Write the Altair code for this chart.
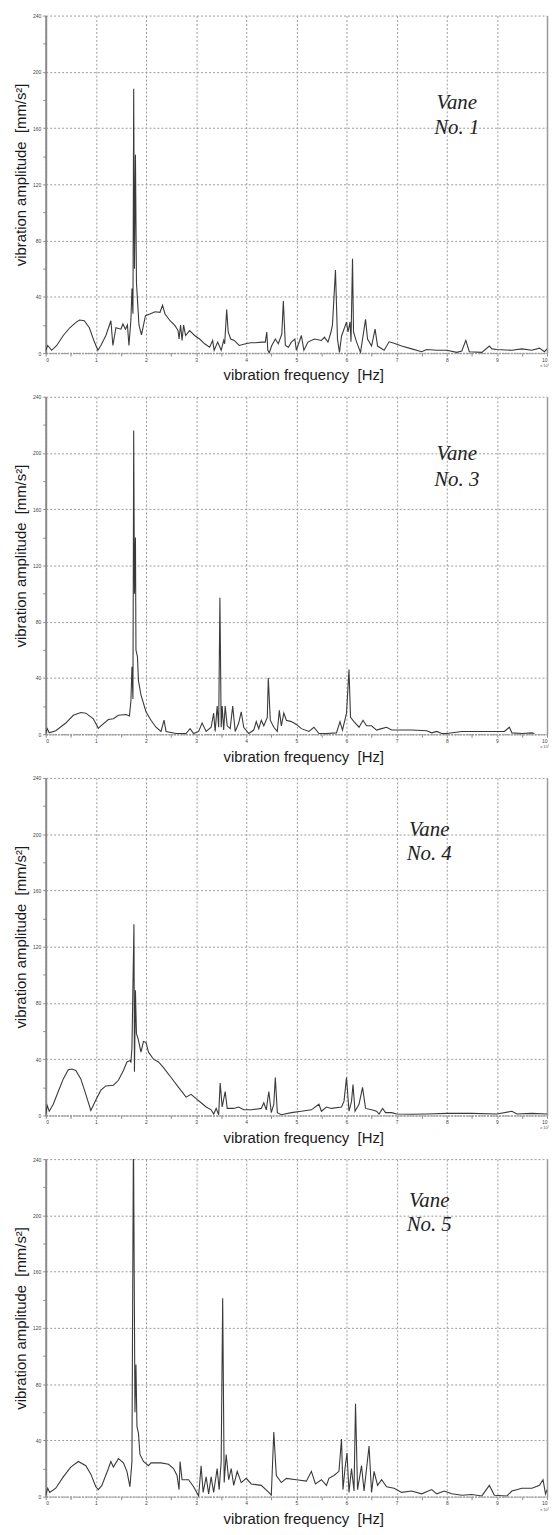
import altair as alt
import pandas as pd

# ---------------- data (frequency in kHz x 10^3 Hz, amplitude in mm/s^2) ----------------
f1 = [0.0, 0.04, 0.12, 0.22, 0.35, 0.48, 0.61, 0.675, 0.77, 0.87, 0.97, 1.04, 1.10, 1.20, 1.30, 1.34,
      1.40, 1.50, 1.54, 1.59, 1.63, 1.66, 1.70, 1.72, 1.74, 1.755, 1.77, 1.79, 1.81, 1.83, 1.86, 1.91,
      1.99, 2.08, 2.18, 2.28, 2.33, 2.38, 2.48, 2.58, 2.64, 2.66, 2.69, 2.72, 2.75, 2.79, 2.87, 2.97,
      3.07, 3.17, 3.27, 3.33, 3.36, 3.43, 3.50, 3.55, 3.57, 3.61, 3.64, 3.69, 3.76, 3.86, 3.99, 4.09,
      4.18, 4.31, 4.38, 4.41, 4.43, 4.46, 4.51, 4.58, 4.64, 4.71, 4.74, 4.78, 4.84, 4.90, 4.97, 5.00,
      5.10, 5.15, 5.23, 5.36, 5.50, 5.56, 5.63, 5.69, 5.72, 5.78, 5.82, 5.86, 5.90, 6.00, 6.03, 6.07,
      6.09, 6.12, 6.14, 6.20, 6.28, 6.38, 6.42, 6.50, 6.57, 6.62, 6.75, 6.85, 6.95, 7.10, 7.30, 7.50,
      7.60, 7.80, 8.00, 8.20, 8.30, 8.38, 8.45, 8.70, 8.85, 8.90, 9.00, 9.30, 9.50, 9.70, 9.85, 9.95, 10.0]
a1 = [2, 5.4, 2, 5.4, 12.5, 18, 22, 23.5, 23, 18, 8, 2, 5.4, 12.5, 23, 5.4,
      18, 17, 20.7, 17, 20, 5.4, 24, 46, 28, 188, 60, 141, 50, 38, 20, 13,
      26.6, 27.8, 29.4, 29, 34, 27.8, 23, 19.5, 16, 10, 20, 9, 20, 12.5, 16, 12.5,
      10, 6.6, 4.2, 9, 2, 7.8, 2, 9, 6.6, 31, 15, 10, 9, 5.4, 6.6, 7.3,
      7.3, 7.8, 7.8, 15, 2, 0.2, 5.4, 10, 6.6, 13.6, 37, 5.4, 4.2, 7.8, 10, 2,
      12.5, 2, 7.8, 10, 9, 11.3, 7.8, 14.8, 20, 59, 10, 0.5, 12, 22, 15, 22,
      8, 67, 15, 8, 0.5, 24, 10, 5, 17, 5, 2, 8, 7, 5, 3, 1,
      2.5, 2, 2, 0.5, 1.5, 9, 1, 0.5, 5, 3, 2.5, 2, 3, 2, 3.5, 1, 3]

f3 = [0.0, 0.03, 0.07, 0.20, 0.40, 0.55, 0.70, 0.80, 0.95, 1.05, 1.10, 1.25, 1.35, 1.45, 1.60, 1.67,
      1.70, 1.72, 1.74, 1.755, 1.77, 1.79, 1.80, 1.83, 1.85, 1.90, 2.00, 2.10, 2.20, 2.30, 2.36, 2.40,
      2.60, 2.80, 2.88, 2.95, 3.05, 3.12, 3.20, 3.30, 3.35, 3.38, 3.42, 3.45, 3.475, 3.50, 3.52, 3.55,
      3.58, 3.62, 3.68, 3.73, 3.78, 3.85, 3.90, 3.95, 4.05, 4.15, 4.20, 4.25, 4.30, 4.35, 4.42, 4.44,
      4.48, 4.55, 4.62, 4.66, 4.70, 4.75, 4.80, 4.90, 5.00, 5.10, 5.25, 5.35, 5.45, 5.60, 5.80, 5.87,
      5.92, 6.00, 6.05, 6.08, 6.15, 6.25, 6.33, 6.40, 6.50, 6.60, 6.70, 6.80, 6.90, 7.00, 7.30, 7.60,
      7.70, 7.80, 7.90, 8.00, 8.30, 8.60, 8.90, 9.15, 9.25, 9.30, 9.50, 9.70, 9.75]
a3 = [1, 4, 1, 2.5, 8, 13.5, 15.5, 15, 11, 4.2, 6, 10.5, 11, 13.5, 14, 13,
      24, 48, 25, 216, 100, 140, 60, 55, 38, 28, 16, 10, 5, 2, 10, 2,
      0.5, 0.5, 4, 0.5, 2, 8, 2, 5, 15, 2, 20, 5, 97, 5, 20, 3,
      20, 6, 4, 20, 2, 8, 16, 5, 0.5, 3, 9, 4, 10, 6, 12, 40,
      10, 5, 2, 17, 6, 15, 10, 9, 7, 4, 2, 5, 0.5, 0.5, 1, 9,
      3, 15, 46, 12, 9, 5, 10, 6, 6, 3, 4, 5, 3, 3, 3, 2.5,
      1, 2, 0.5, 0.5, 2, 2, 2, 2, 5, 1, 0.5, 1, 0.5]

f4 = [0.0, 0.03, 0.07, 0.15, 0.25, 0.35, 0.45, 0.52, 0.60, 0.70, 0.80, 0.90, 1.00, 1.10, 1.20, 1.35,
      1.45, 1.55, 1.62, 1.68, 1.70, 1.72, 1.76, 1.77, 1.79, 1.81, 1.84, 1.90, 1.95, 2.00, 2.05, 2.15,
      2.25, 2.35, 2.50, 2.65, 2.80, 2.90, 3.00, 3.10, 3.20, 3.30, 3.35, 3.40, 3.45, 3.48, 3.52, 3.58,
      3.62, 3.75, 3.85, 3.95, 4.10, 4.30, 4.35, 4.40, 4.45, 4.50, 4.55, 4.58, 4.62, 4.70, 4.90, 5.10,
      5.30, 5.45, 5.50, 5.60, 5.70, 5.90, 5.95, 6.00, 6.05, 6.10, 6.13, 6.17, 6.25, 6.32, 6.38, 6.50,
      6.60, 6.65, 6.72, 6.78, 6.90, 7.00, 7.30, 7.60, 8.00, 8.50, 9.00, 9.30, 9.40, 9.70, 10.0]
a4 = [1, 7, 3, 8, 17, 26, 32.5, 33, 32, 26, 15, 3.5, 11, 18, 21, 21.5,
      25, 32, 38, 39, 38, 48, 136, 31, 89, 58, 55, 45, 52.6, 52, 45, 40,
      38, 34, 27, 20, 13, 15, 12, 9, 6, 4, 1, 5, 0.5, 23, 6, 17,
      5, 5, 6, 4, 4, 5, 9, 4, 17, 2, 8, 27, 2, 0.5, 2, 3,
      4, 8, 3, 6, 5, 6, 10, 27, 3, 10, 22, 3, 8, 20, 5, 4,
      3, 1, 5, 2, 2, 1, 0.8, 1, 1.5, 1.5, 1, 3, 1, 1.5, 1]

f5 = [0.0, 0.04, 0.08, 0.20, 0.35, 0.50, 0.65, 0.80, 0.90, 1.00, 1.05, 1.12, 1.25, 1.30, 1.35, 1.45,
      1.55, 1.62, 1.68, 1.72, 1.73, 1.75, 1.78, 1.80, 1.82, 1.85, 1.88, 1.95, 2.05, 2.10, 2.30, 2.45,
      2.55, 2.62, 2.66, 2.68, 2.72, 2.85, 2.95, 3.05, 3.10, 3.14, 3.20, 3.25, 3.30, 3.35, 3.42, 3.46,
      3.50, 3.53, 3.56, 3.60, 3.65, 3.70, 3.75, 3.82, 3.90, 4.00, 4.10, 4.30, 4.45, 4.50, 4.55, 4.60,
      4.70, 4.80, 5.00, 5.20, 5.30, 5.38, 5.50, 5.60, 5.65, 5.75, 5.85, 5.90, 5.93, 5.97, 6.01, 6.05,
      6.10, 6.15, 6.18, 6.22, 6.30, 6.35, 6.45, 6.50, 6.55, 6.62, 6.70, 6.80, 6.95, 7.10, 7.30, 7.50,
      7.70, 7.80, 7.95, 8.10, 8.30, 8.50, 8.70, 8.85, 8.95, 9.20, 9.30, 9.50, 9.70, 9.85, 9.92, 9.97, 10.0]
a5 = [1, 6, 3, 6, 14, 21, 25, 22, 16, 7, 5, 8, 20, 25, 21, 27,
      24, 18, 7, 25, 104, 260, 60, 94, 50, 45, 30, 25, 22, 24, 24, 23,
      20, 15, 5, 25, 12, 12, 7, 0.5, 22, 3, 14, 2, 14, 3, 20, 5,
      25, 141, 10, 30, 12, 20, 8, 18, 10, 13, 9, 8, 3, 1, 46, 15,
      10, 13, 12, 11, 18, 9, 12, 8, 13, 15, 18, 41, 5, 20, 31, 3,
      20, 4, 66, 5, 22, 4, 36, 3, 18, 8, 12, 7, 6, 3, 4, 2,
      5, 2, 4, 2, 1, 1.5, 0.5, 8, 1, 0.5, 4, 6, 6, 8, 12, 2, 5]

vanes = ["No. 1", "No. 3", "No. 4", "No. 5"]
vane_x = [8.2, 8.2, 7.65, 7.65]
vane_y_top = [178, 199, 203, 210]
vane_y_bot = [160, 181, 186, 193]

x_ticks = [i * 0.5 for i in range(21)]
y_ticks = [i * 20 for i in range(13)]

LINE = "#3a3a3a"
GRID = "#9a9a9a"
W, H = 505, 340

xaxis = alt.Axis(
    values=x_ticks,
    labelExpr="datum.value % 1 == 0 ? format(datum.value, 'd') : ''",
    title="vibration frequency \u00a0[Hz]",
    titleX=W / 2 + 7,
    grid=True,
    gridDash=[2, 2],
    gridColor=GRID,
    gridOpacity={"condition": {"test": "datum.value % 1 != 0", "value": 0}, "value": 1},
    tickSize=3,
    labelFontSize=5,
    labelPadding=1,
    titlePadding=6,
    domainDash=[2, 1],
    domainWidth=1.5,
)
yaxis = alt.Axis(
    orient="left",
    values=y_ticks,
    labelExpr="datum.value % 40 == 0 ? format(datum.value, 'd') : ''",
    title="vibration amplitude \u00a0[mm/s²]",
    titleY=H / 2 - 10,
    grid=True,
    gridDash=[2, 2],
    gridColor=GRID,
    gridOpacity={"condition": {"test": "datum.value % 40 != 0", "value": 0}, "value": 1},
    tickSize=3,
    labelFontSize=5,
    labelPadding=2,
    titlePadding=4,
    domainColor="#8a8a8a",
    domainWidth=2,
)
yaxis_right = alt.Axis(
    orient="right",
    values=y_ticks,
    labels=False,
    ticks=False,
    grid=False,
    title="",
    domainColor="#9a9a9a",
    domainWidth=1.5,
)
xscale = alt.Scale(domain=[0, 10], nice=False, zero=False)
yscale = alt.Scale(domain=[0, 240], nice=False)


def panel(freq, amp, label, vx, vy1, vy2):
    df = pd.DataFrame({"f": freq, "a": amp})
    line = alt.Chart(df).mark_line(color=LINE, strokeWidth=1.1, clip=True).encode(
        x=alt.X("f:Q", scale=xscale, axis=xaxis),
        y=alt.Y("a:Q", scale=yscale, axis=yaxis),
    )
    tdf = pd.DataFrame({"f": [vx, vx], "a": [vy1, vy2], "t": ["Vane", label]})
    txt = alt.Chart(tdf).mark_text(
        font="Liberation Serif", fontStyle="italic", fontSize=21, color="#222222",
        align="center", baseline="middle",
    ).encode(
        x=alt.X("f:Q", scale=xscale, axis=xaxis),
        y=alt.Y("a:Q", scale=yscale, axis=yaxis),
        text="t:N",
    )
    edf = pd.DataFrame({"f": [10.0], "a": [0.0], "t": ["x 10³"]})
    exp = alt.Chart(edf).mark_text(
        fontSize=4, color="#555555", align="right", baseline="middle", dy=13, dx=2,
        font="Liberation Sans",
    ).encode(
        x=alt.X("f:Q", scale=xscale, axis=xaxis),
        y=alt.Y("a:Q", scale=yscale, axis=yaxis_right),
        text="t:N",
    )
    inner = alt.layer(line, txt)
    return alt.layer(inner, exp).resolve_axis(y="independent").properties(width=W, height=H)


freqs = [f1, f3, f4, f5]
amps = [a1, a3, a4, a5]
panels = [panel(freqs[i], amps[i], vanes[i], vane_x[i], vane_y_top[i], vane_y_bot[i]) for i in range(4)]

chart = alt.vconcat(*panels, spacing=12).properties(
    padding={"left": 5, "top": 0, "right": 0, "bottom": 0}
).configure_view(stroke=None).configure_axis(
    labelFont="Liberation Sans",
    titleFont="Liberation Sans",
    titleFontSize=15,
    titleFontWeight="normal",
    titleColor="#1a1a1a",
    labelColor="#444444",
    tickColor="#8a8a8a",
    domainColor="#9a9a9a",
)

chart.save("out.html", embed_options={"renderer": "svg", "actions": False})
